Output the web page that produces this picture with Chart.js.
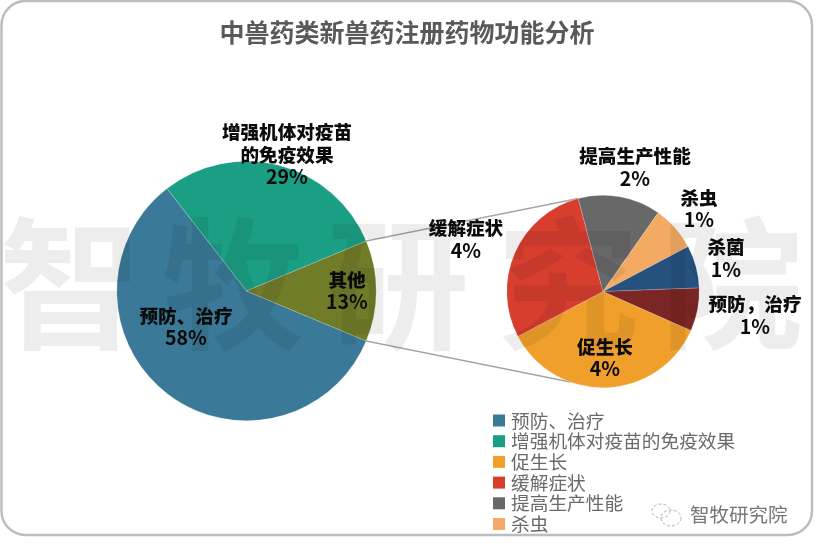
<!DOCTYPE html>
<html lang="zh">
<head>
<meta charset="utf-8">
<title>中兽药类新兽药注册药物功能分析</title>
<script src="https://cdn.jsdelivr.net/npm/chart.js@4"></script>
<style>
  html, body { margin: 0; padding: 0; background: #fff; }
  #stage { position: relative; width: 816px; height: 551px; overflow: hidden; }
  #stage canvas { position: absolute; left: 0; top: 0; }
</style>
</head>
<body>
<div id="stage">
  <div style="position:absolute;left:0;top:0;width:816px;height:551px"><canvas id="mainPie"></canvas></div>
  <div style="position:absolute;left:0;top:0;width:816px;height:551px"><canvas id="detailPie"></canvas></div>
</div>
<script>
// Share of registered drugs by function (percent)
const mainCategories = ['预防、治疗', '增强机体对疫苗的免疫效果', '其他'];
const mainValues = [58.2, 29.2, 12.6];

// Breakdown of the "其他" slice (percent of the whole)
const detailCategories = ['促生长', '缓解症状', '提高生产性能', '杀虫', '杀菌', '预防，治疗'];
const detailValues = [4.49, 3.6, 1.75, 0.95, 0.9, 0.91];

const legendLabels = ['预防、治疗', '增强机体对疫苗的免疫效果', '促生长', '缓解症状', '提高生产性能', '杀虫'];
const chartTitle = '中兽药类新兽药注册药物功能分析';
const watermarkChars = ['智', '牧', '研', '究', '院'];
const brandName = '智牧研究院';

const mainColors = ['#3a7997', '#1b9f84', '#707c28'];
const detailColors = ['#f0a02a', '#d73e2e', '#686868', '#f4aa62', '#25517f', '#7b2624'];
const legendColors = ['#3a7997', '#1b9f84', '#f0a02a', '#d73e2e', '#686868', '#f4aa62'];

const CJK = '"Noto Sans CJK SC", "Noto Sans", sans-serif';
const LABEL_FONT = `900 18.6px ${CJK}`;
const PCT_FONT = `700 19.5px ${CJK}`;

// Each data label: caption lines, then the centre of every line on the page
const mainLabelLayout = [
  { lines: ['预防、治疗'], x: 186, y: [316, 338] },
  { lines: ['增强机体对疫苗', '的免疫效果'], x: 287, y: [132, 155, 177] },
  { lines: ['其他'], x: 347, y: [280, 302] }
];
const detailLabelLayout = [
  { lines: ['促生长'], x: 605, y: [347, 369] },
  { lines: ['缓解症状'], x: 466, y: [228, 251] },
  { lines: ['提高生产性能'], x: 635, y: [156, 179] },
  { lines: ['杀虫'], x: 699, y: [198, 220] },
  { lines: ['杀菌'], x: 726, y: [247, 270] },
  { lines: ['预防，治疗'], x: 755, y: [304, 327] }
];

function drawSliceLabels(ctx, layout, values) {
  ctx.save();
  ctx.textAlign = 'center';
  ctx.textBaseline = 'middle';
  ctx.fillStyle = '#0b0b0b';
  layout.forEach((item, i) => {
    ctx.font = LABEL_FONT;
    item.lines.forEach((line, n) => ctx.fillText(line, item.x, item.y[n]));
    ctx.font = PCT_FONT;
    ctx.fillText(Math.round(values[i]) + '%', item.x, item.y[item.lines.length]);
  });
  ctx.restore();
}

// Point on the rim of a pie at an angle measured in radians from the x axis
function rimPoint(arc, angle) {
  return { x: arc.x + Math.cos(angle) * arc.outerRadius, y: arc.y + Math.sin(angle) * arc.outerRadius };
}

const framePlugin = {
  id: 'frame',
  beforeDraw(chart) {
    const ctx = chart.ctx;
    ctx.save();
    ctx.strokeStyle = '#bdbdbd';
    ctx.lineWidth = 2.5;
    ctx.beginPath();
    ctx.roundRect(1.5, 1, 810.5, 534, 24);
    ctx.stroke();
    ctx.restore();
  }
};

// The title spans the whole page rather than the inset pie area
const fullWidthTitle = {
  id: 'fullWidthTitle',
  afterLayout(chart) {
    chart.titleBlock.left = 0;
    chart.titleBlock.right = chart.width - 2;
    chart.titleBlock.width = chart.width - 2;
  }
};

const legendPlugin = {
  id: 'pageLegend',
  afterDraw(chart) {
    const ctx = chart.ctx;
    ctx.save();
    ctx.textBaseline = 'middle';
    ctx.textAlign = 'left';
    ctx.font = `18.7px ${CJK}`;
    legendLabels.forEach((text, i) => {
      const y = 420.5 + i * 20.7;
      ctx.fillStyle = legendColors[i];
      ctx.fillRect(493, y - 6, 12, 12);
      ctx.fillStyle = '#6a6a6a';
      ctx.fillText(text, 511, y);
    });
    ctx.restore();
  }
};

const mainLabels = {
  id: 'mainLabels',
  afterDatasetsDraw(chart) {
    drawSliceLabels(chart.ctx, mainLabelLayout, mainValues);
  }
};

const brandPlugin = {
  id: 'brand',
  afterDraw(chart) {
    const ctx = chart.ctx;
    ctx.save();
    // Chat-bubble outline beside the account name
    ctx.strokeStyle = '#a8a8a8';
    ctx.lineWidth = 0.9;
    ctx.setLineDash([3, 2]);
    ctx.beginPath();
    ctx.ellipse(661, 511, 9, 7, 0, 0, Math.PI * 2);
    ctx.stroke();
    ctx.beginPath();
    ctx.ellipse(671, 518, 10, 8, 0, 0, Math.PI * 2);
    ctx.stroke();
    ctx.setLineDash([]);
    ctx.fillStyle = '#767676';
    ctx.font = `19.5px ${CJK}`;
    ctx.textAlign = 'left';
    ctx.textBaseline = 'middle';
    ctx.fillText(brandName, 690, 515);
    ctx.restore();
  }
};

const mainChart = new Chart(document.getElementById('mainPie'), {
  type: 'pie',
  data: {
    labels: mainCategories,
    datasets: [{
      data: mainValues,
      backgroundColor: mainColors,
      borderColor: 'rgba(255,255,255,0.3)',
      borderWidth: 0.6
    }]
  },
  options: {
    responsive: true,
    maintainAspectRatio: false,
    animation: false,
    rotation: 112.7,
    layout: { padding: { left: 116.5, right: 439.5, top: 17, bottom: 130 } },
    plugins: {
      legend: { display: false },
      tooltip: { enabled: false },
      title: {
        display: true,
        text: chartTitle,
        color: '#595959',
        font: { family: CJK, size: 25, weight: 'bold', lineHeight: 1.2 },
        padding: { top: 0, bottom: 114 }
      }
    }
  },
  plugins: [framePlugin, fullWidthTitle, mainLabels, legendPlugin, brandPlugin]
});

// Connector lines, a translucent page watermark, then the detail labels on top
const overlayPlugin = {
  id: 'overlay',
  beforeDatasetsDraw(chart) {
    const ctx = chart.ctx;
    const other = mainChart.getDatasetMeta(0).data[2];
    const detail = chart.getDatasetMeta(0).data;
    const upper = rimPoint(detail[2], detail[2].startAngle);
    const lower = rimPoint(detail[0], detail[0].startAngle + (detail[0].endAngle - detail[0].startAngle) * 0.67);
    const from = [rimPoint(other, other.startAngle), rimPoint(other, other.endAngle)];
    ctx.save();
    ctx.strokeStyle = '#a6a6a6';
    ctx.lineWidth = 1.5;
    ctx.beginPath();
    ctx.moveTo(from[0].x, from[0].y);
    ctx.lineTo(upper.x, upper.y);
    ctx.moveTo(from[1].x, from[1].y);
    ctx.lineTo(lower.x, lower.y);
    ctx.stroke();
    ctx.restore();
  },
  afterDatasetsDraw(chart) {
    const ctx = chart.ctx;
    ctx.save();
    ctx.fillStyle = 'rgba(0,0,0,0.07)';
    ctx.font = `bold 142px ${CJK}`;
    ctx.textAlign = 'center';
    ctx.textBaseline = 'middle';
    [70, 233, 398, 568, 732].forEach((x, i) => ctx.fillText(watermarkChars[i], x, 284));
    ctx.restore();
    drawSliceLabels(ctx, detailLabelLayout, detailValues);
  }
};

new Chart(document.getElementById('detailPie'), {
  type: 'pie',
  data: {
    labels: detailCategories,
    datasets: [{
      data: detailValues,
      backgroundColor: detailColors,
      borderColor: 'rgba(255,255,255,0.3)',
      borderWidth: 0.6
    }]
  },
  options: {
    responsive: true,
    maintainAspectRatio: false,
    animation: false,
    rotation: 113.9,
    layout: { padding: { left: 506.5, right: 116.5, top: 195, bottom: 163 } },
    plugins: {
      legend: { display: false },
      tooltip: { enabled: false },
      title: { display: false }
    }
  },
  plugins: [overlayPlugin]
});
</script>
</body>
</html>
